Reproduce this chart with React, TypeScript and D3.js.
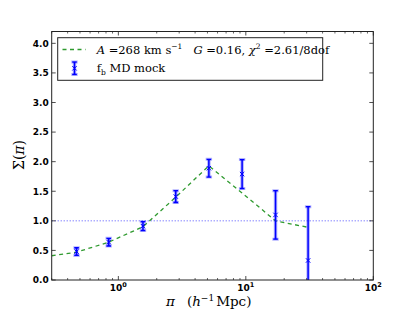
import React from "react";
import * as d3 from "d3";

const W = 415;
const H = 312;

// mock data (π in h^-1 Mpc, Σ(π))
const piValues = [0.47, 0.84, 1.56, 2.82, 5.13, 9.35, 17.1, 30.8];
const sigmaValues = [0.48, 0.64, 0.91, 1.41, 1.89, 1.79, 1.1, 0.33];
const sigmaErrors = [0.065, 0.065, 0.075, 0.1, 0.15, 0.245, 0.41, 0.91];

// fitted model curve
const modelPi = [0.3, 0.47, 0.84, 1.56, 2.82, 5.13, 9.35, 17.1, 30.8];
const modelSigma = [0.41, 0.47, 0.64, 0.9, 1.4, 1.93, 1.47, 1.0, 0.89];

const yTicks = [0, 0.5, 1, 1.5, 2, 2.5, 3, 3.5, 4];
const xMajorTicks = [1, 10, 100];
const xMajorExp = ["0", "1", "2"];
const xMinorTicks = [0.3, 0.4, 0.5, 0.6, 0.7, 0.8, 0.9, 2, 3, 4, 5, 6, 7, 8, 9, 20, 30, 40, 50, 60, 70, 80, 90];

const M = { left: 51.7, right: 373.3, top: 31.5, bottom: 280 };

export default function App() {
  const x = d3.scaleLog().domain([0.3, 100]).range([M.left, M.right]);
  const y = d3.scaleLinear().domain([0, 4.2]).range([M.bottom, M.top]);

  const line = d3
    .line<number>()
    .x((_, i) => x(modelPi[i]))
    .y((d) => y(d));

  const blue = "#0000ff";
  const green = "#2f9a2f";
  const tickFont = "DejaVu Sans, sans-serif";
  const serif = "DejaVu Serif, serif";

  const errBar = (cx: number, cy: number, yl: number, yh: number, key: string) => (
    <g key={key}>
      <line x1={cx} x2={cx} y1={yl} y2={yh} stroke={blue} strokeOpacity={0.3} strokeWidth={3.5} />
      <line x1={cx - 3.2} x2={cx + 3.2} y1={yl} y2={yl} stroke={blue} strokeOpacity={0.3} strokeWidth={3} />
      <line x1={cx - 3.2} x2={cx + 3.2} y1={yh} y2={yh} stroke={blue} strokeOpacity={0.3} strokeWidth={3} />
      <line x1={cx} x2={cx} y1={yl} y2={yh} stroke={blue} strokeWidth={1.5} />
      <line x1={cx - 2.3} x2={cx + 2.3} y1={yl} y2={yl} stroke={blue} strokeWidth={1.3} />
      <line x1={cx - 2.3} x2={cx + 2.3} y1={yh} y2={yh} stroke={blue} strokeWidth={1.3} />
      <path
        d={`M${cx - 2.2},${cy - 2.2}L${cx + 2.2},${cy + 2.2}M${cx - 2.2},${cy + 2.2}L${cx + 2.2},${cy - 2.2}`}
        stroke={blue}
        strokeWidth={1}
        fill="none"
      />
    </g>
  );

  return (
    <svg width={W} height={H} style={{ position: "absolute", left: 0, top: 0, background: "#fff" }}>
      <defs>
        <clipPath id="plotclip">
          <rect x={M.left} y={M.top} width={M.right - M.left} height={M.bottom - M.top} />
        </clipPath>
      </defs>
      <rect x={0} y={0} width={W} height={H} fill="#fff" />

      <g clipPath="url(#plotclip)">
        {/* reference line at 1 */}
        <line
          x1={M.left}
          x2={M.right}
          y1={y(1)}
          y2={y(1)}
          stroke={blue}
          strokeOpacity={0.7}
          strokeWidth={1}
          strokeDasharray="1,2"
        />
        {/* model fit */}
        <path d={line(modelSigma) || ""} fill="none" stroke={green} strokeWidth={1.3} strokeDasharray="4,3.5" />
        {/* data */}
        {piValues.map((p, i) =>
          errBar(x(p), y(sigmaValues[i]), y(sigmaValues[i] - sigmaErrors[i]), y(sigmaValues[i] + sigmaErrors[i]), "e" + i)
        )}
      </g>

      {/* frame */}
      <rect
        x={M.left}
        y={M.top}
        width={M.right - M.left}
        height={M.bottom - M.top}
        fill="none"
        stroke="#222"
        strokeWidth={1}
      />

      {/* y ticks */}
      {yTicks.map((t) => (
        <g key={"y" + t}>
          <line x1={M.left} x2={M.left + 4} y1={y(t)} y2={y(t)} stroke="#222" strokeWidth={0.8} />
          <line x1={M.right} x2={M.right - 4} y1={y(t)} y2={y(t)} stroke="#222" strokeWidth={0.8} />
          <text
            x={M.left - 3}
            y={y(t) + 3.3}
            textAnchor="end"
            fontFamily={tickFont}
            fontWeight="bold"
            fontSize={9}
            fill="#000"
          >
            {d3.format(".1f")(t)}
          </text>
        </g>
      ))}

      {/* x minor ticks */}
      {xMinorTicks.map((t) => (
        <g key={"xm" + t}>
          <line x1={x(t)} x2={x(t)} y1={M.bottom} y2={M.bottom - 2} stroke="#222" strokeWidth={0.7} />
          <line x1={x(t)} x2={x(t)} y1={M.top} y2={M.top + 2} stroke="#222" strokeWidth={0.7} />
        </g>
      ))}
      {/* x major ticks */}
      {xMajorTicks.map((t, i) => (
        <g key={"xM" + t}>
          <line x1={x(t)} x2={x(t)} y1={M.bottom} y2={M.bottom - 4} stroke="#222" strokeWidth={0.8} />
          <line x1={x(t)} x2={x(t)} y1={M.top} y2={M.top + 4} stroke="#222" strokeWidth={0.8} />
          <text
            x={x(t)}
            y={M.bottom + 10.5}
            textAnchor="middle"
            fontFamily={tickFont}
            fontWeight="bold"
            fontSize={9}
            fill="#000"
          >
            10
            <tspan fontSize={6.5} dy={-3.5}>
              {xMajorExp[i]}
            </tspan>
          </text>
        </g>
      ))}

      {/* axis labels */}
      <text x={166} y={306} fontFamily={serif} fontSize={13.5} fill="#000">
        <tspan fontStyle="italic">π</tspan>
        <tspan dx={12}>(</tspan>
        <tspan fontStyle="italic">h</tspan>
        <tspan fontSize={9} dy={-5.5}>−1</tspan>
        <tspan dy={5.5} dx={2}>Mpc)</tspan>
      </text>
      <text
        transform={`translate(24,155) rotate(-90)`}
        textAnchor="middle"
        fontFamily={serif}
        fontSize={14}
        fill="#000"
      >
        Σ(<tspan fontStyle="italic">π</tspan>)
      </text>

      {/* legend */}
      <rect x={57.7} y={37.7} width={265} height={42.6} fill="#fff" stroke="#222" strokeWidth={1} />
      <line x1={62.5} x2={85.5} y1={49.5} y2={49.5} stroke={green} strokeWidth={1.3} strokeDasharray="4,3.5" />
      <text x={96.7} y={53.5} fontFamily={serif} fontSize={11.5} fill="#000">
        <tspan fontStyle="italic">A</tspan> =268 km s<tspan fontSize={7.5} dy={-4.5}>−1</tspan>
        <tspan dy={4.5} dx={11} fontStyle="italic">G</tspan> =0.16, <tspan fontStyle="italic">χ</tspan>
        <tspan fontSize={7.5} dy={-4.5}>2</tspan>
        <tspan dy={4.5}> =2.61/8dof</tspan>
      </text>
      {errBar(74.5, 68.3, 74.5, 62, "leg")}
      <text x={96.7} y={72} fontFamily={serif} fontSize={11.5} fill="#000">
        f<tspan fontSize={7.5} dy={2.5}>b</tspan>
        <tspan dy={-2.5}> MD mock</tspan>
      </text>
    </svg>
  );
}
